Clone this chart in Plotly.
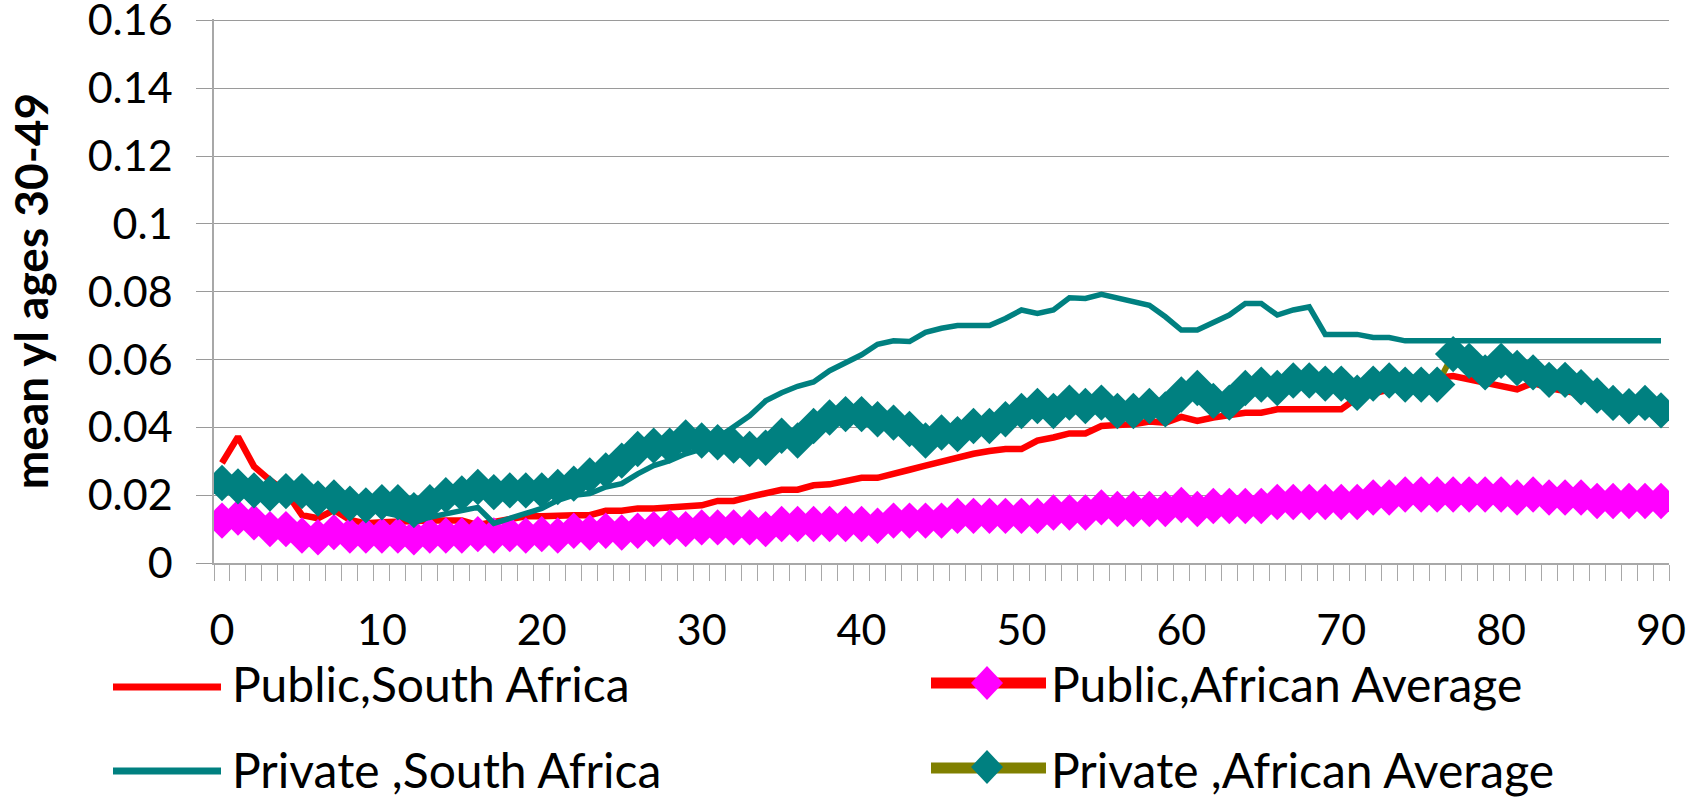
import plotly.graph_objects as go

# ---------------- data ----------------
ages = list(range(91))
x_tick_vals = [0, 10, 20, 30, 40, 50, 60, 70, 80, 90]
x_tick_text = ["0", "10", "20", "30", "40", "50", "60", "70", "80", "90"]

public_sa = [
    0.0295, 0.0372, 0.0285, 0.0244, 0.0210, 0.0141, 0.0132, 0.0156, 0.0127, 0.0117,
    0.0120, 0.0122, 0.0127, 0.0125, 0.0125, 0.0125, 0.0112, 0.0122, 0.0132, 0.0138,
    0.0138, 0.0141, 0.0141, 0.0141, 0.0154, 0.0154, 0.0161, 0.0161, 0.0165, 0.0170,
    0.0170, 0.0183, 0.0183, 0.0195, 0.0206, 0.0216, 0.0216, 0.0229, 0.0232, 0.0242,
    0.0251, 0.0251, 0.0261, 0.0275, 0.0287, 0.0299, 0.0312, 0.0322, 0.0330, 0.0336,
    0.0336, 0.0361, 0.0370, 0.0382, 0.0382, 0.0404, 0.0407, 0.0409, 0.0417, 0.0414,
    0.0431, 0.0419, 0.0429, 0.0437, 0.0443, 0.0443, 0.0453, 0.0453, 0.0453, 0.0453,
    0.0453, 0.0487, 0.0499, 0.0512, 0.0530, 0.0540, 0.0546, 0.0551, 0.0541, 0.0531,
    0.0521, 0.0512, 0.0531, 0.0516, 0.0507, 0.0500, 0.0490, 0.0480, 0.0470, 0.0465, 0.0460,
]

public_aa = [
    0.0125, 0.0134, 0.0120, 0.0100, 0.0100, 0.0081, 0.0076, 0.0091, 0.0081, 0.0081,
    0.0081, 0.0081, 0.0076, 0.0081, 0.0081, 0.0081, 0.0085, 0.0081, 0.0085, 0.0081,
    0.0085, 0.0081, 0.0095, 0.0090, 0.0095, 0.0090, 0.0095, 0.0100, 0.0105, 0.0100,
    0.0105, 0.0105, 0.0105, 0.0105, 0.0100, 0.0115, 0.0115, 0.0115, 0.0115, 0.0115,
    0.0115, 0.0110, 0.0125, 0.0125, 0.0125, 0.0125, 0.0139, 0.0139, 0.0139, 0.0139,
    0.0139, 0.0139, 0.0149, 0.0149, 0.0149, 0.0164, 0.0159, 0.0159, 0.0159, 0.0159,
    0.0171, 0.0159, 0.0168, 0.0168, 0.0168, 0.0168, 0.0180, 0.0180, 0.0180, 0.0180,
    0.0180, 0.0180, 0.0193, 0.0193, 0.0202, 0.0202, 0.0202, 0.0202, 0.0202, 0.0202,
    0.0202, 0.0193, 0.0202, 0.0193, 0.0193, 0.0193, 0.0183, 0.0183, 0.0183, 0.0183, 0.0183,
]

private_sa = [
    0.0240, 0.0230, 0.0220, 0.0220, 0.0230, 0.0230, 0.0190, 0.0180, 0.0170, 0.0160,
    0.0150, 0.0140, 0.0120, 0.0135, 0.0145, 0.0155, 0.0164, 0.0117, 0.0130, 0.0146,
    0.0161, 0.0185, 0.0200, 0.0205, 0.0224, 0.0234, 0.0263, 0.0287, 0.0302, 0.0322,
    0.0336, 0.0370, 0.0404, 0.0434, 0.0478, 0.0502, 0.0521, 0.0534, 0.0567, 0.0590,
    0.0614, 0.0645, 0.0655, 0.0653, 0.0680, 0.0692, 0.0700, 0.0700, 0.0700, 0.0721,
    0.0746, 0.0736, 0.0746, 0.0782, 0.0780, 0.0792, 0.0782, 0.0772, 0.0760, 0.0726,
    0.0687, 0.0687, 0.0707, 0.0731, 0.0765, 0.0765, 0.0731, 0.0746, 0.0755, 0.0674,
    0.0674, 0.0674, 0.0665, 0.0665, 0.0655, 0.0655, 0.0655, 0.0655, 0.0655, 0.0655,
    0.0655, 0.0655, 0.0655, 0.0655, 0.0655, 0.0655, 0.0655, 0.0655, 0.0655, 0.0655, 0.0655,
]

private_aa = [
    0.0236, 0.0226, 0.0214, 0.0205, 0.0212, 0.0212, 0.0190, 0.0193, 0.0175, 0.0170,
    0.0179, 0.0179, 0.0156, 0.0179, 0.0200, 0.0205, 0.0224, 0.0209, 0.0214, 0.0214,
    0.0214, 0.0224, 0.0234, 0.0258, 0.0273, 0.0302, 0.0336, 0.0346, 0.0346, 0.0370,
    0.0361, 0.0356, 0.0346, 0.0336, 0.0340, 0.0375, 0.0361, 0.0404, 0.0429, 0.0439,
    0.0439, 0.0424, 0.0414, 0.0395, 0.0361, 0.0385, 0.0380, 0.0404, 0.0404, 0.0424,
    0.0448, 0.0463, 0.0448, 0.0473, 0.0463, 0.0473, 0.0448, 0.0448, 0.0463, 0.0453,
    0.0497, 0.0516, 0.0478, 0.0473, 0.0516, 0.0526, 0.0516, 0.0538, 0.0538, 0.0529,
    0.0529, 0.0502, 0.0529, 0.0538, 0.0526, 0.0526, 0.0526, 0.0616, 0.0596, 0.0562,
    0.0596, 0.0575, 0.0562, 0.0540, 0.0540, 0.0518, 0.0494, 0.0472, 0.0462, 0.0472, 0.0450,
]

names = ["Public,South Africa", "Public,African Average",
         "Private ,South Africa", "Private ,African Average"]

# ---------------- styles ----------------
RED = "#FF0000"
MAGENTA = "#FF00FF"
TEAL = "#008080"
OLIVE = "#808000"
FONT = "Lato"
GRID = "#9a9a9a"
AXIS = "#a8a8a8"

W, H = 1704, 797
L, R, T, B = 214, 35, 19, 234
PW, PH = W - L - R, H - T - B
Y_MAX = 0.1604


def px(xp):
    return (xp - L) / PW


def py(yp):
    return (H - B - yp) / PH


fig = go.Figure()

fig.add_trace(go.Scatter(x=ages, y=public_sa, mode="lines", name=names[0],
                         line=dict(color=RED, width=6.5), showlegend=False))
fig.add_trace(go.Scatter(x=ages, y=public_aa, mode="lines+markers", name=names[1],
                         line=dict(color=RED, width=6),
                         marker=dict(symbol="diamond", size=28, color=MAGENTA, line=dict(width=0)),
                         showlegend=False))
fig.add_trace(go.Scatter(x=ages, y=private_sa, mode="lines", name=names[2],
                         line=dict(color=TEAL, width=5.5), showlegend=False))
fig.add_trace(go.Scatter(x=ages, y=private_aa, mode="lines+markers", name=names[3],
                         line=dict(color=OLIVE, width=6),
                         marker=dict(symbol="diamond", size=28, color=TEAL, line=dict(width=0)),
                         showlegend=False))

# legend entries (text); the long keys are drawn as shapes below
legend_ids = ["legend", "legend2", "legend3", "legend4"]
for nm, lid in zip(names, legend_ids):
    fig.add_trace(go.Scatter(x=[None], y=[None], mode="lines", name=nm,
                             line=dict(width=0, color="rgba(0,0,0,0)"),
                             legend=lid, showlegend=True, hoverinfo="skip"))

leg_font = dict(family=FONT, size=48, color="black")
col_x = [px(192), px(1011)]
row_y = [py(684), py(770)]
legend_pos = [(col_x[0], row_y[0]), (col_x[1], row_y[0]), (col_x[0], row_y[1]), (col_x[1], row_y[1])]
leg_layout = {}
for lid, (lx, ly) in zip(legend_ids, legend_pos):
    leg_layout[lid] = dict(x=lx, y=ly, xanchor="left", yanchor="middle",
                           font=leg_font, bgcolor="rgba(0,0,0,0)", borderwidth=0,
                           itemwidth=30)

# legend key shapes
shapes = []


def key_line(x0, x1, y, color, width):
    shapes.append(dict(type="line", xref="paper", yref="paper",
                       x0=px(x0), x1=px(x1), y0=py(y), y1=py(y),
                       line=dict(color=color, width=width)))


def key_diamond(cx, cy, color, hw=16, hh=17):
    path = "M {a},{b} L {c},{d} L {e},{f} L {g},{h} Z".format(
        a=px(cx - hw), b=py(cy), c=px(cx), d=py(cy - hh),
        e=px(cx + hw), f=py(cy), g=px(cx), h=py(cy + hh))
    shapes.append(dict(type="path", xref="paper", yref="paper", path=path,
                       fillcolor=color, line=dict(width=0)))


key_line(113, 221, 687, RED, 7)
key_line(931, 1046, 683, RED, 11)
key_diamond(987, 683, MAGENTA)
key_line(113, 221, 771, TEAL, 7)
key_line(931, 1046, 768, OLIVE, 11)
key_diamond(987, 767, TEAL)

fig.update_layout(
    width=W, height=H,
    margin=dict(l=L, r=R, t=T, b=B, autoexpand=False),
    paper_bgcolor="white", plot_bgcolor="white",
    font=dict(family=FONT, color="black"),
    shapes=shapes,
    xaxis=dict(range=[-0.5, 90.5], tickmode="array", tickvals=x_tick_vals, ticktext=x_tick_text,
               ticks="", showgrid=False, zeroline=False,
               showline=True, linecolor=AXIS, linewidth=1.5,
               tickfont=dict(family=FONT, size=43, color="black"),
               ticklabelstandoff=29, ticklabeloverflow="allow",
               minor=dict(tickmode="linear", tick0=-0.5, dtick=1, ticks="outside",
                          ticklen=16, tickwidth=1.3, tickcolor=AXIS, showgrid=False)),
    yaxis=dict(range=[0, Y_MAX], tickmode="linear", tick0=0, dtick=0.02,
               ticks="outside", ticklen=16, tickwidth=1.3, tickcolor=GRID,
               showgrid=True, gridcolor=GRID, gridwidth=1.3,
               zeroline=False, showline=True, linecolor=AXIS, linewidth=1.5,
               tickfont=dict(family=FONT, size=43, color="black"),
               ticklabelstandoff=15, ticklabeloverflow="allow",
               title=dict(text="mean yl ages 30-49", standoff=25,
                          font=dict(family=FONT, size=46, color="black", weight="bold"))),
    **leg_layout,
)

fig.write_html("out.html", config={"displayModeBar": False},
               post_script="document.body.style.margin='0';document.body.style.overflow='hidden';")
